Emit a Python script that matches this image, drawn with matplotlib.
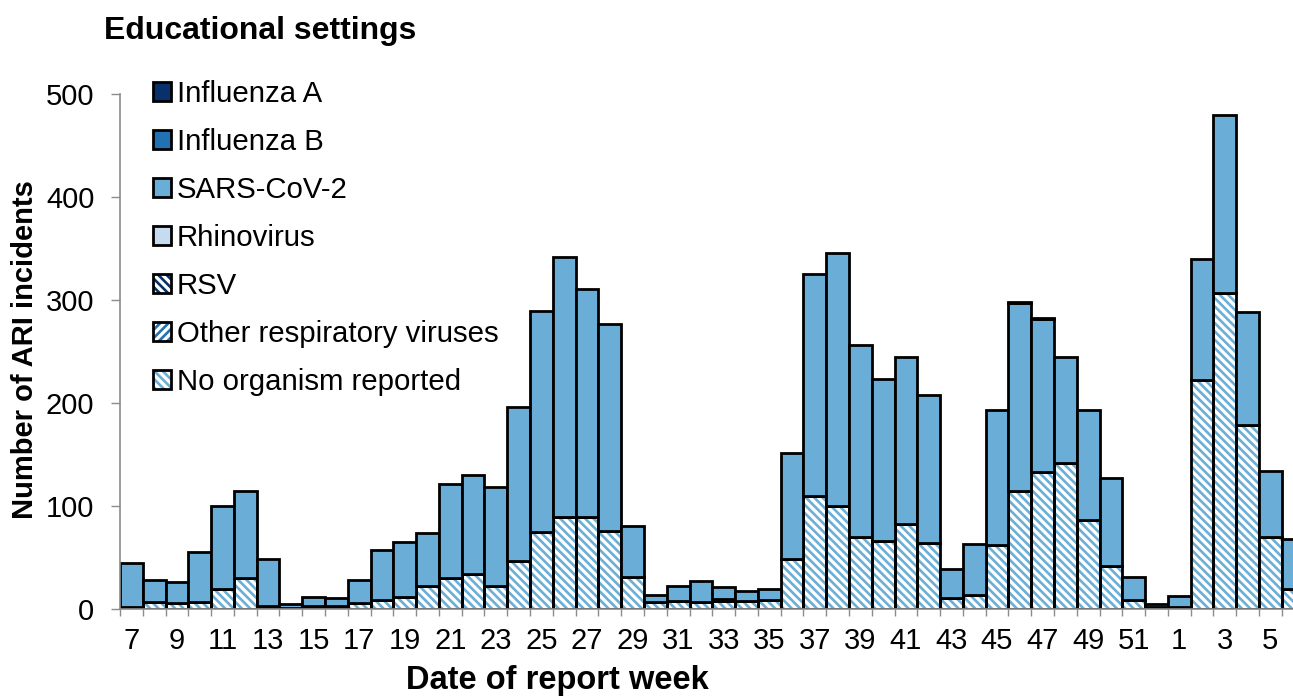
import numpy as np
import matplotlib.pyplot as plt
from matplotlib.patches import Patch

plt.rcParams['font.family'] = ['Liberation Sans', 'DejaVu Sans']
plt.rcParams['hatch.linewidth'] = 1.9

# report weeks (7..52 then 1..6)
weeks = [7, 8, 9, 10, 11, 12, 13, 14, 15, 16, 17, 18, 19, 20, 21, 22, 23, 24,
         25, 26, 27, 28, 29, 30, 31, 32, 33, 34, 35, 36, 37, 38, 39, 40, 41, 42,
         43, 44, 45, 46, 47, 48, 49, 50, 51, 52, 1, 2, 3, 4, 5, 6]

no_org = [2, 7, 6, 7, 19, 30, 3, 1, 3, 3, 6, 9, 12, 22, 30, 34, 22, 47,
          75, 89, 89, 76, 31, 7, 8, 7, 8, 8, 9, 49, 110, 100, 70, 66, 83, 64,
          11, 14, 62, 115, 133, 142, 86, 42, 9, 2, 2, 222, 307, 179, 70, 19]
other_resp = [0] * 52
rsv = [0] * 26 + [2] + [0] * 25
rhino = [0] * 52
sars = [43, 21, 20, 48, 81, 85, 46, 4, 9, 8, 22, 48, 53, 52, 91, 96, 96, 149,
        214, 253, 222, 201, 50, 7, 14, 20, 11, 9, 10, 102, 215, 246, 186, 157, 162, 144,
        28, 49, 131, 182, 149, 103, 107, 85, 22, 3, 11, 118, 173, 109, 64, 49]
flu_b = [0] * 52
flu_a = [0] * 39 + [1, 1] + [0] * 11

# name, values, fill colour, hatch, hatch colour  (bottom of stack first)
series = [
    ("No organism reported", no_org, "white", "\\\\\\\\", "#6baed6"),
    ("Other respiratory viruses", other_resp, "white", "////", "#2171b5"),
    ("RSV", rsv, "white", "\\\\\\\\", "#08306b"),
    ("Rhinovirus", rhino, "#c6dbef", None, None),
    ("SARS-CoV-2", sars, "#6aadd6", None, None),
    ("Influenza B", flu_b, "#2171b5", None, None),
    ("Influenza A", flu_a, "#08306b", None, None),
]

fig = plt.figure(figsize=(12.93, 6.96), dpi=100)
ax = fig.add_axes([120 / 1293, 87 / 696, 52 * 22.78 / 1293, 515 / 696])

x = np.arange(len(weeks))
bottom = np.zeros(len(weeks))
lw = 2.0
handles = []
for name, vals, fc, hatch, hc in series:
    v = np.array(vals, dtype=float)
    m = v > 0
    if hatch:
        ax.bar(x[m], v[m], 1.0, bottom=bottom[m], color="white", edgecolor=hc,
               hatch=hatch, linewidth=0)
        ax.bar(x[m], v[m], 1.0, bottom=bottom[m], fill=False, edgecolor="black",
               linewidth=lw)
        h = (Patch(facecolor="white", edgecolor=hc, hatch=hatch, linewidth=0),
             Patch(facecolor="none", edgecolor="black", linewidth=lw))
    else:
        ax.bar(x[m], v[m], 1.0, bottom=bottom[m], color=fc, edgecolor="black",
               linewidth=lw)
        h = Patch(facecolor=fc, edgecolor="black", linewidth=lw)
    handles.append((h, name))
    bottom += v

ax.set_xlim(-0.5, 51.5)
ax.set_ylim(0, 500)
ax.set_yticks(range(0, 501, 100))
ax.set_xticks(np.arange(-0.5, 52, 1))
ax.set_xticklabels([])
ax.set_xticks(x[::2], minor=True)
ax.set_xticklabels([str(w) for w in weeks[::2]], minor=True)

grey = "#8c8c8c"
for s in ["top", "right"]:
    ax.spines[s].set_visible(False)
for s in ["left", "bottom"]:
    ax.spines[s].set_color(grey)
    ax.spines[s].set_linewidth(1.2)
ax.tick_params(axis="y", colors=grey, length=6.5, width=1, pad=12,
               labelcolor="black", labelsize=21)
ax.tick_params(axis="x", which="major", colors=grey, length=5, width=1)
ax.tick_params(axis="x", which="minor", length=0, pad=13,
               labelcolor="black", labelsize=21)

hs = [h for h, n in handles][::-1]
ns = [n for h, n in handles][::-1]
fig.legend(hs, ns, loc="upper left", bbox_to_anchor=(153 / 1293, 1 - 80 / 696),
           frameon=False, fontsize=21.2, handlelength=0.6, handleheight=0.6,
           handletextpad=0.2, labelspacing=0.68, borderpad=0, borderaxespad=0)

fig.text(104 / 1293, 1 - 31 / 696, "Educational settings", fontsize=23,
         fontweight="bold", ha="left", va="center")
fig.text(25 / 1293, 1 - 350 / 696, "Number of ARI incidents", fontsize=21,
         fontweight="bold", rotation=90, ha="center", va="center")
fig.text(557 / 1293, 1 - 681 / 696, "Date of report week", fontsize=23.5,
         fontweight="bold", ha="center", va="center")

fig.savefig("out.png", dpi=100)
